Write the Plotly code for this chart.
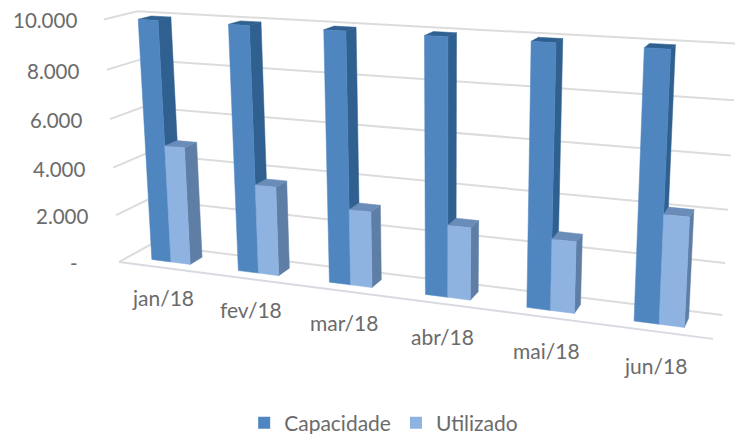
import numpy as np
import plotly.graph_objects as go

categories = ["jan/18", "fev/18", "mar/18", "abr/18", "mai/18", "jun/18"]
capacidade = [9960, 9960, 9960, 9960, 9960, 9960]
utilizado = [4900, 3650, 3050, 2850, 2750, 4100]
tick_values = [10000, 8000, 6000, 4000, 2000, 0]
tick_labels = ["10.000", "8.000", "6.000", "4.000", "2.000", "-"]
series_names = ["Capacidade", "Utilizado"]

W, H = 735, 434
VMAX = 10000.0

# Calibration of the 3D view: (along, depth, height) -> page position
world = [(0,0,0),(0,1,0),(1,1,0),(1,0,0),(0,0,1),(0,1,1),(1,1,1),(1,1,.8),(1,1,.6),(1,1,.4),(1,1,.2),
         (0,0,.8),(0,0,.6),(0,0,.4),(0,0,.2)]
page = [(120,262),(150,245),(722,315),(713,339),(103,20),(138,11),(737,44),(734,100),(731,155),(728,210),(725,263),
        (107,70),(110,119),(113,167),(116,215)]
A = []
for (a, d, v), (px, py) in zip(world, page):
    A.append([a, d, v, 1, 0, 0, 0, 0, -px*a, -px*d, -px*v, -px])
    A.append([0, 0, 0, 0, a, d, v, 1, -py*a, -py*d, -py*v, -py])
P = np.linalg.svd(np.array(A, float))[2][-1].reshape(3, 4)


def proj(a, d, value):
    q = P @ np.array([a, d, value / VMAX, 1.0])
    return q[0] / q[2], q[1] / q[2]


fig = go.Figure()


def poly(pts, color):
    xy = [proj(*p) for p in pts] + [proj(*pts[0])]
    fig.add_trace(go.Scatter(x=[c[0] for c in xy], y=[c[1] for c in xy], mode="lines", fill="toself",
                             fillcolor=color, line=dict(color=color, width=0.5), hoverinfo="skip", showlegend=False))


def line(pts, color="#dcdcdc", width=2):
    xy = [proj(*p) for p in pts]
    fig.add_trace(go.Scatter(x=[c[0] for c in xy], y=[c[1] for c in xy], mode="lines",
                             line=dict(color=color, width=width), hoverinfo="skip", showlegend=False))


# Walls and floor
for v in tick_values:
    line([(0, 0, v), (0, 1, v), (1, 1, v)])
line([(0, 0, 0), (1, 0, 0)], "#d9d9e2")

# Bars
D0, D1 = 0.30, 0.70
FILL = 0.45
n = len(categories)
bw = FILL / n / 2
STYLES = [("#4f86c0", "#2f6090", "#2f6090"), ("#8fb3e0", "#5f7ea6", "#6a8cb8")]


def bar(a0, value, style):
    a1 = a0 + bw
    front, side, top = style
    poly([(a1, D0, 0), (a1, D1, 0), (a1, D1, value), (a1, D0, value)], side)
    poly([(a0, D0, value), (a1, D0, value), (a1, D1, value), (a0, D1, value)], top)
    poly([(a0, D0, 0), (a1, D0, 0), (a1, D0, value), (a0, D0, value)], front)


for i in range(n):
    c = (i + 0.5) / n
    bar(c - bw, capacidade[i], STYLES[0])
    bar(c, utilizado[i], STYLES[1])

annotations = []
for v, t in zip(tick_values, tick_labels):
    x, y = proj(0, 0, v)
    annotations.append(dict(x=x - (39 if t == "-" else 25), y=y + 1, text=t, xanchor="right", yanchor="middle",
                            showarrow=False, font=dict(family="Lato", size=20.5, color="#6b6b6b")))
for i, t in enumerate(categories):
    x, y = proj((i + 0.5) / n, -0.1, -1200)
    annotations.append(dict(x=x + 3, y=y, text=t, xanchor="center", yanchor="middle", showarrow=False,
                            font=dict(family="Lato", size=21, color="#6b6b6b")))

# Legend swatches
for name, style in zip(series_names, STYLES):
    fig.add_trace(go.Scatter(x=[None], y=[None], mode="markers", name=name,
                             marker=dict(symbol="square", size=12, color=style[0])))

fig.update_layout(
    width=W, height=H, margin=dict(l=0, r=0, t=0, b=0, autoexpand=False), paper_bgcolor="white", plot_bgcolor="white",
    xaxis=dict(range=[0, W], visible=False, fixedrange=True),
    yaxis=dict(range=[H, 0], visible=False, fixedrange=True),
    annotations=annotations,
    legend=dict(orientation="h", x=0.522, y=0.025, xanchor="center", yanchor="middle",
                font=dict(family="Lato", size=21, color="#6b6b6b"), itemwidth=30, traceorder="normal"),
)
fig.write_html("out.html", config={"displayModeBar": False},
               post_script="document.body.style.margin='0';document.body.style.overflow='hidden';")
